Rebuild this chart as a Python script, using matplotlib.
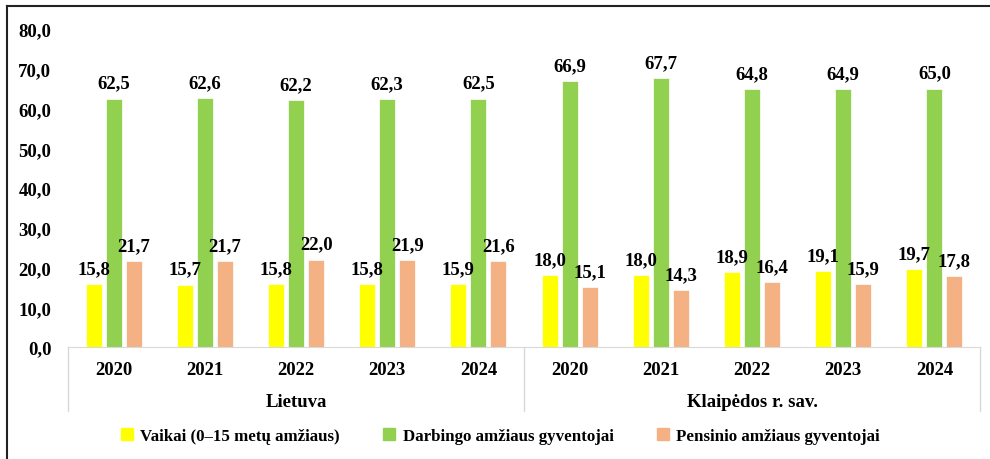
import numpy as np
import matplotlib.pyplot as plt
from matplotlib.lines import Line2D

plt.rcParams['font.family'] = ['Liberation Serif', 'DejaVu Serif']
plt.rcParams['font.weight'] = 'bold'

# data
years = ['2020', '2021', '2022', '2023', '2024']
regions = ['Lietuva', 'Klaipėdos r. sav.']
vaikai = [15.8, 15.7, 15.8, 15.8, 15.9, 18.0, 18.0, 18.9, 19.1, 19.7]
darbingo = [62.5, 62.6, 62.2, 62.3, 62.5, 66.9, 67.7, 64.8, 64.9, 65.0]
pensinio = [21.7, 21.7, 22.0, 21.9, 21.6, 15.1, 14.3, 16.4, 15.9, 17.8]
series_names = ['Vaikai (0–15 metų amžiaus)', 'Darbingo amžiaus gyventojai',
                'Pensinio amžiaus gyventojai']
colors = ['#FFFF00', '#92D050', '#F4B183']
fs = 13.5

fig = plt.figure(figsize=(9.9, 4.6), dpi=100)
ax = fig.add_axes([0.0687, 0.2435, 0.9212, 0.6913])

x = np.arange(len(vaikai))
w = 0.175
step = 0.22
for i, (vals, c) in enumerate(zip([vaikai, darbingo, pensinio], colors)):
    bars = ax.bar(x + (i - 1) * step, vals, width=w, color=c, edgecolor='white', linewidth=0.5)
    ax.bar_label(bars, labels=[f'{v:.1f}'.replace('.', ',') for v in vals],
                 padding=5, fontsize=fs, fontweight='bold')

ax.set_xlim(-0.5, len(vaikai) - 0.5)
ax.set_ylim(0, 80)
ax.set_yticks(np.arange(0, 81, 10))
ax.set_yticklabels([f'{v:.1f}'.replace('.', ',') for v in np.arange(0, 81, 10)],
                   fontsize=fs, fontweight='bold')
ax.tick_params(axis='y', length=0, pad=12)
ax.set_xticks(x)
ax.set_xticklabels(years * 2, fontsize=fs, fontweight='bold')
ax.tick_params(axis='x', length=0, pad=10)
for s in ['top', 'right', 'left']:
    ax.spines[s].set_visible(False)
ax.spines['bottom'].set_color('#D9D9D9')

# category separators and region labels
for xv in [-0.5, 4.5, 9.5]:
    ax.plot([xv, xv], [0, -0.2], transform=ax.get_xaxis_transform(),
            color='#D9D9D9', lw=1, clip_on=False)
for j, r in enumerate(regions):
    ax.text(j * 5 + 2, -0.17, r, transform=ax.get_xaxis_transform(),
            ha='center', va='center', fontsize=fs, fontweight='bold')

handles = [Line2D([], [], marker='s', linestyle='', markersize=8,
                  markerfacecolor=c, markeredgecolor=c) for c in colors]
fig.legend(handles, series_names, loc='center', bbox_to_anchor=(0.505, 0.05),
           ncol=3, frameon=False, handletextpad=0.4, handlelength=0.8,
           columnspacing=2.5, prop={'weight': 'bold', 'size': 12.2})

# border of the original screenshot
fig.add_artist(Line2D([0.0075, 0.0075], [0, 0.985], color='#222222', lw=1.5))
fig.add_artist(Line2D([0.0075, 1.0], [0.985, 0.985], color='#222222', lw=1.5))

fig.savefig('out.png', dpi=100)
